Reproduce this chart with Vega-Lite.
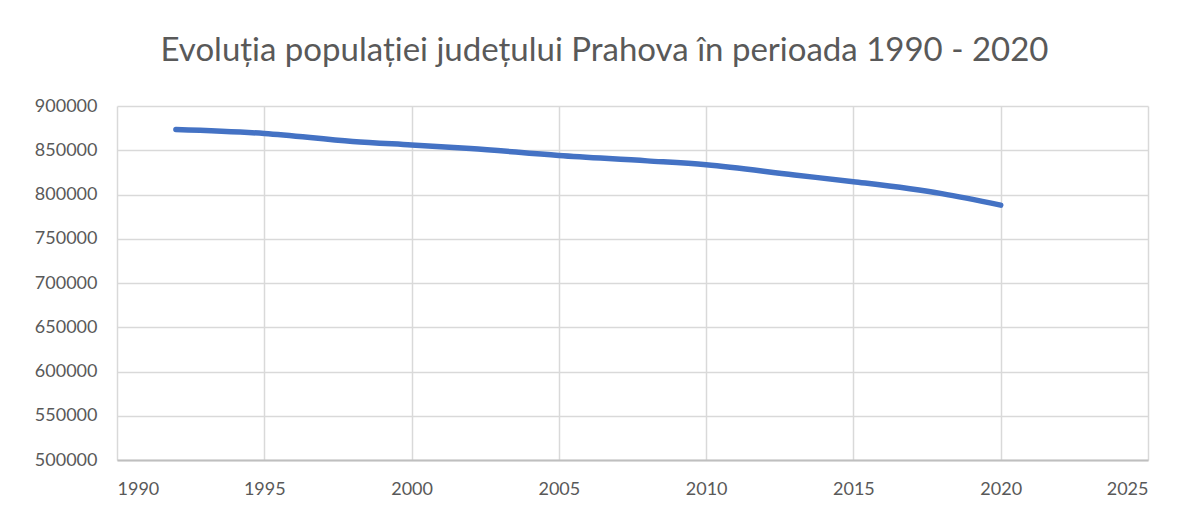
{
  "$schema": "https://vega.github.io/schema/vega-lite/v6.json",
  "width": 1031,
  "height": 354,
  "autosize": {"type": "none"},
  "padding": {"left": 117, "top": 106, "right": 37, "bottom": 54},
  "background": "white",
  "title": {
    "text": "Evoluția populației județului Prahova în perioada 1990 - 2020",
    "font": "Lato",
    "fontSize": 33,
    "fontWeight": "normal",
    "color": "#595959",
    "anchor": "middle",
    "dx": -28,
    "offset": 29
  },
  "data": {
    "values": [
      {"an": 1992, "populatie": 873500},
      {"an": 1995, "populatie": 869000},
      {"an": 1998, "populatie": 860000},
      {"an": 2000, "populatie": 856000},
      {"an": 2002, "populatie": 852000},
      {"an": 2005, "populatie": 844000},
      {"an": 2008, "populatie": 838000},
      {"an": 2010, "populatie": 833500},
      {"an": 2013, "populatie": 822000},
      {"an": 2015, "populatie": 814500},
      {"an": 2018, "populatie": 801000},
      {"an": 2020, "populatie": 788000}
    ]
  },
  "mark": {"type": "line", "color": "#4472C4", "strokeWidth": 5.5, "strokeCap": "round", "strokeJoin": "round", "interpolate": "monotone"},
  "encoding": {
    "x": {
      "field": "an", "type": "quantitative",
      "scale": {"domain": [1990, 2025], "nice": false, "zero": false},
      "axis": {"title": null, "values": [1990, 1995, 2000, 2005, 2010, 2015, 2020, 2025], "format": "d", "labelPadding": 20, "domainColor": "#bfbfbf", "domainWidth": 2}
    },
    "y": {
      "field": "populatie", "type": "quantitative",
      "scale": {"domain": [500000, 900000], "nice": false, "zero": false},
      "axis": {"title": null, "values": [500000, 550000, 600000, 650000, 700000, 750000, 800000, 850000, 900000], "format": "d", "labelPadding": 20, "domain": false}
    }
  },
  "config": {
    "view": {"stroke": null},
    "axis": {
      "labelFont": "Lato",
      "labelFontSize": 18,
      "labelColor": "#595959",
      "ticks": false,
      "grid": true,
      "gridColor": "#d9d9d9",
      "gridWidth": 1.5
    }
  }
}
